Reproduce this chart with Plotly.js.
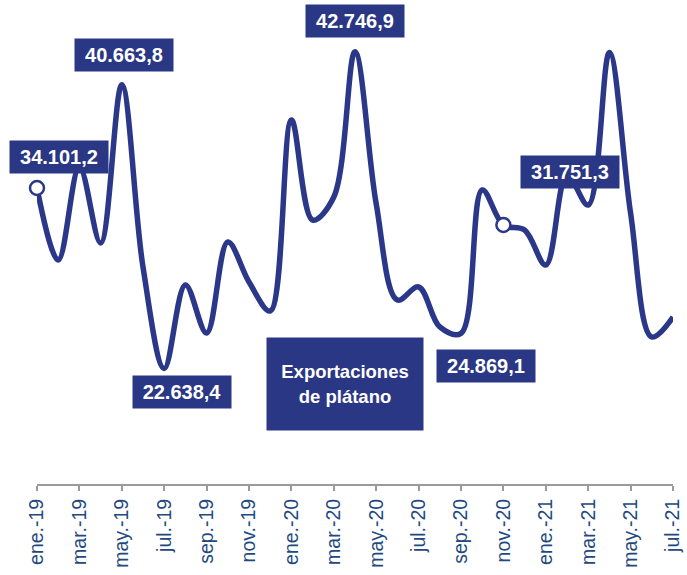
<!DOCTYPE html>
<html>
<head>
<meta charset="utf-8">
<script src="https://cdn.plot.ly/plotly-3.0.1.min.js"></script>
<style>
html,body{margin:0;padding:0;background:#fff;}
#chart{width:687px;height:575px;}
</style>
</head>
<body>
<div id="chart"></div>
<script>
const months = ["ene.-19","feb.-19","mar.-19","abr.-19","may.-19","jun.-19","jul.-19","ago.-19","sep.-19","oct.-19","nov.-19","dic.-19",
  "ene.-20","feb.-20","mar.-20","abr.-20","may.-20","jun.-20","jul.-20","ago.-20","sep.-20","oct.-20","nov.-20","dic.-20",
  "ene.-21","feb.-21","mar.-21","abr.-21","may.-21","jun.-21","jul.-21"];
const exportaciones = [34101.2,29529,35435,30609,40663.8,29085,22638.4,27942,24894,30672,28132,26291,
  38419,32069,33530,42746.9,33100,26989,27815,25275,24869.1,33974,31751.3,31434,
  29212,34927,33022,42700,32500,24640,25910];
const tickLabels = ["ene.-19","mar.-19","may.-19","jul.-19","sep.-19","nov.-19","ene.-20","mar.-20","may.-20","jul.-20","sep.-20","nov.-20","ene.-21","mar.-21","may.-21","jul.-21"];
const markedIdx = [0, 22];
// labelled points: index, text, x shift, y shift
const labelIdx = [0, 4, 6, 15, 20, 22];
const labelText = ["34.101,2","40.663,8","22.638,4","42.746,9","24.869,1","31.751,3"];
const labelDx = [22, 2, 18, 0, 25, 67];
const labelDy = [31, 30, -23, 31, -33, 53];
const chartTitle = "Exportaciones<br>de plátano";

const navy = "#2b3788";
const boxNavy = "#2a3784";

const traces = [
  {
    x: months, y: exportaciones, type: "scatter", mode: "lines",
    line: {color: navy, width: 5.5, shape: "spline", smoothing: 1},
    hoverinfo: "skip"
  },
  {
    x: markedIdx.map(i => months[i]), y: markedIdx.map(i => exportaciones[i]),
    type: "scatter", mode: "markers", cliponaxis: false,
    marker: {size: 14, color: "#ffffff", line: {color: navy, width: 2.5}},
    hoverinfo: "skip"
  }
];

const annotations = labelIdx.map((idx, k) => ({
  x: months[idx], y: exportaciones[idx], xref: "x", yref: "y",
  text: "<b>" + labelText[k] + "</b>", showarrow: false,
  xanchor: "center", yanchor: "middle",
  xshift: labelDx[k], yshift: labelDy[k],
  bgcolor: boxNavy, width: 96, height: 30, borderpad: 1,
  font: {family: "Liberation Sans, Arial, sans-serif", size: 20, color: "#ffffff"}
}));
annotations.push({
  x: 0.484, y: 0.211, xref: "paper", yref: "paper", showarrow: false,
  xanchor: "center", yanchor: "middle",
  text: "<b>" + chartTitle + "</b>", bgcolor: boxNavy, width: 154, height: 90,
  font: {family: "Liberation Sans, Arial, sans-serif", size: 18.5, color: "#ffffff"}
});

const layout = {
  width: 687, height: 575,
  margin: {l: 37, r: 14, t: 10, b: 91},
  paper_bgcolor: "#ffffff", plot_bgcolor: "#ffffff",
  showlegend: false,
  xaxis: {
    type: "category", range: [0, 30],
    tickmode: "array", tickvals: tickLabels, ticktext: tickLabels,
    tickangle: -90, ticks: "outside", ticklen: 5, tickwidth: 2, tickcolor: "#9a9a9a",
    showline: true, linecolor: "#9a9a9a", linewidth: 2,
    showgrid: false, zeroline: false,
    tickfont: {family: "Liberation Sans, Arial, sans-serif", size: 19.5, color: "#1f4a80"}
  },
  yaxis: {
    range: [15305, 45404], visible: false, showgrid: false, zeroline: false
  },
  annotations: annotations
};

Plotly.newPlot("chart", traces, layout, {displayModeBar: false, staticPlot: true});
</script>
</body>
</html>
